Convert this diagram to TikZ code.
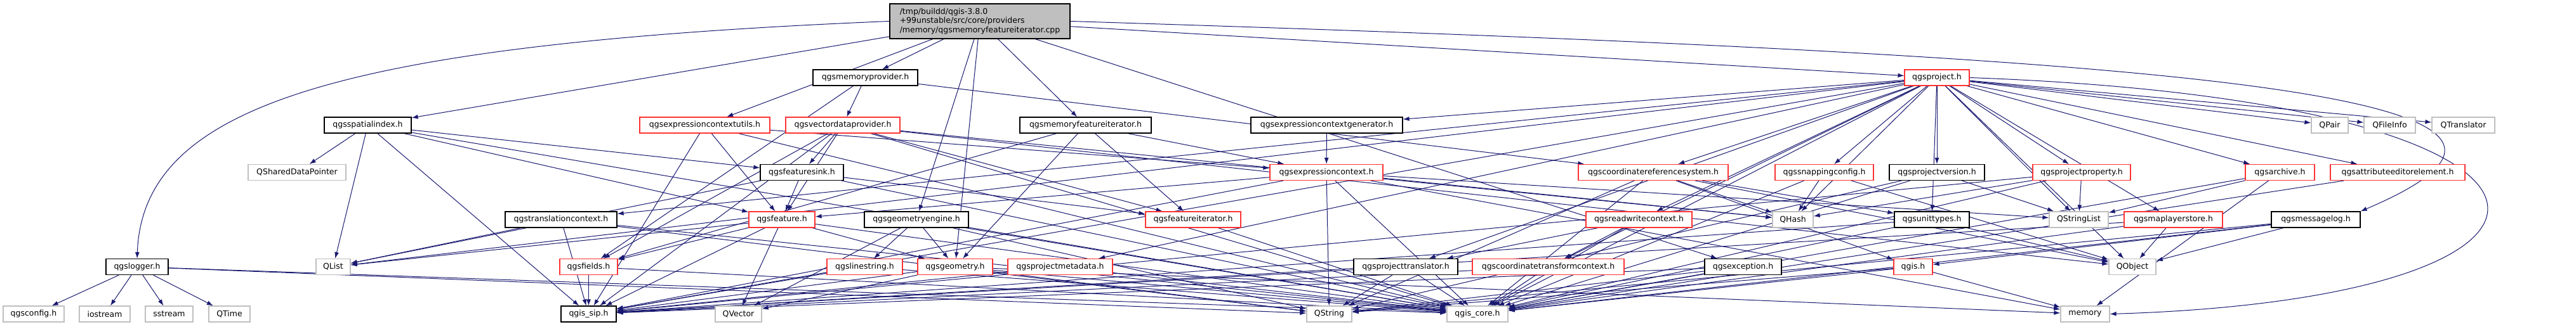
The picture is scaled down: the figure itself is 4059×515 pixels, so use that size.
\documentclass[tikz,border=0pt]{standalone}
\usepackage{fontspec}
\setmainfont{DejaVu Sans}
\usepackage{tikz}
\usetikzlibrary{arrows.meta}
\usepackage{xcolor}

\definecolor{edgeblue}{HTML}{191970}
\definecolor{cutred}{HTML}{FF3333}
\definecolor{sysgray}{HTML}{BFBFBF}

\pgfdeclarelayer{bg}
\pgfsetlayers{bg,main}

\tikzset{
    hbox/.style = {draw=black, line width=1.2pt, fill=white, minimum height=25pt, inner sep=0pt,
                   font=\fontsize{12.5}{14.2}\selectfont},
    hcut/.style = {hbox, draw=cutred},
    hsys/.style = {hbox, draw=sysgray},
    hroot/.style = {hbox, fill=sysgray, minimum height=55pt, align=left},
    inc/.style = {draw=edgeblue, line width=1pt, -{Latex[length=10pt, width=7pt]}}
}

\begin{document}
\begin{tikzpicture}[x=1pt, y=-1pt]
        \useasboundingbox (0,0) rectangle (4059,515);

        \node[hroot, minimum width=284pt] (root) at (1544,33.5) {/tmp/buildd/qgis-3.8.0\\+99unstable/src/core/providers\\/memory/qgsmemoryfeatureiterator.cpp};

        \node[hbox, minimum width=165pt] (memprov) at (1363.5,122.5) {qgsmemoryprovider.h};
        \node[hcut, minimum width=102pt] (project) at (3052,122.5) {qgsproject.h};

        \node[hbox, minimum width=137pt] (spatialindex) at (579.5,197.5) {qgsspatialindex.h};
        \node[hcut, minimum width=205pt] (exprctxutils) at (1110.5,197.5) {qgsexpressioncontextutils.h};
        \node[hcut, minimum width=180pt] (vecdataprov) at (1328,197.5) {qgsvectordataprovider.h};
        \node[hbox, minimum width=207pt] (memfeatiter) at (1710.5,197.5) {qgsmemoryfeatureiterator.h};
        \node[hbox, minimum width=239pt] (exprctxgen) at (2090.5,197.5) {qgsexpressioncontextgenerator.h};
        \node[hsys, minimum width=58pt] (qpair) at (3671,197.5) {QPair};
        \node[hsys, minimum width=81pt] (qfileinfo) at (3765.5,197.5) {QFileInfo};
        \node[hsys, minimum width=99pt] (qtranslator) at (3881.5,197.5) {QTranslator};

        \node[hsys, minimum width=154pt] (shareddp) at (468,272) {QSharedDataPointer};
        \node[hbox, minimum width=131pt] (featuresink) at (1263.5,272) {qgsfeaturesink.h};
        \node[hcut, minimum width=178pt] (exprctx) at (2090,272) {qgsexpressioncontext.h};
        \node[hcut, minimum width=236pt] (crs) at (2605,272) {qgscoordinatereferencesystem.h};
        \node[hcut, minimum width=155pt] (snapping) at (2874.5,272) {qgssnappingconfig.h};
        \node[hbox, minimum width=150pt] (projversion) at (3052,272) {qgsprojectversion.h};
        \node[hcut, minimum width=154pt] (projprop) at (3280,272) {qgsprojectproperty.h};
        \node[hcut, minimum width=109pt] (archive) at (3592.5,272) {qgsarchive.h};
        \node[hcut, minimum width=212pt] (attreditor) at (3778,272) {qgsattributeeditorelement.h};

        \node[hbox, minimum width=176pt] (transctx) at (884,346.5) {qgstranslationcontext.h};
        \node[hcut, minimum width=104pt] (feature) at (1232,346.5) {qgsfeature.h};
        \node[hbox, minimum width=164pt] (geomengine) at (1444,346.5) {qgsgeometryengine.h};
        \node[hcut, minimum width=150pt] (featiter) at (1880,346.5) {qgsfeatureiterator.h};
        \node[hcut, minimum width=167pt] (rwctx) at (2582.5,346.5) {qgsreadwritecontext.h};
        \node[hsys, minimum width=64pt] (qhash) at (2825,346.5) {QHash};
        \node[hbox, minimum width=118pt] (unittypes) at (3044,346.5) {qgsunittypes.h};
        \node[hsys, minimum width=93pt] (qstringlist) at (3275.5,346.5) {QStringList};
        \node[hcut, minimum width=155pt] (maplayerstore) at (3424.5,346.5) {qgsmaplayerstore.h};
        \node[hbox, minimum width=140pt] (msglog) at (3649,346.5) {qgsmessagelog.h};

        \node[hbox, minimum width=98pt] (logger) at (216,421) {qgslogger.h};
        \node[hsys, minimum width=54pt] (qlist) at (525,421) {QList};
        \node[hcut, minimum width=91pt] (fields) at (927.5,421) {qgsfields.h};
        \node[hcut, minimum width=119pt] (linestring) at (1362.5,421) {qgslinestring.h};
        \node[hcut, minimum width=118pt] (geometry) at (1505,421) {qgsgeometry.h};
        \node[hcut, minimum width=165pt] (projmeta) at (1670.5,421) {qgsprojectmetadata.h};
        \node[hbox, minimum width=164pt] (projtranslator) at (2215,421) {qgsprojecttranslator.h};
        \node[hcut, minimum width=239pt] (ctc) at (2439.5,421) {qgscoordinatetransformcontext.h};
        \node[hbox, minimum width=121pt] (exception) at (2746.5,421) {qgsexception.h};
        \node[hcut, minimum width=61pt] (qgis) at (3014.5,421) {qgis.h};
        \node[hsys, minimum width=74pt] (qobject) at (3360,421) {QObject};

        \node[hsys, minimum width=96pt] (qgsconfig) at (53,495.5) {qgsconfig.h};
        \node[hsys, minimum width=80pt] (iostream) at (165,495.5) {iostream};
        \node[hsys, minimum width=75pt] (sstream) at (266.5,495.5) {sstream};
        \node[hsys, minimum width=65pt] (qtime) at (361.5,495.5) {QTime};
        \node[hbox, minimum width=87pt] (qgissip) at (927.5,495.5) {qgis\_sip.h};
        \node[hsys, minimum width=73pt] (qvector) at (1163.5,495.5) {QVector};
        \node[hsys, minimum width=71pt] (qstring) at (2094.5,495.5) {QString};
        \node[hsys, minimum width=96pt] (qgiscore) at (2328,495.5) {qgis\_core.h};
        \node[hsys, minimum width=77pt] (memory) at (3285.5,495.5) {memory};

        \begin{pgfonlayer}{bg}
            \draw[inc] (root.west) .. controls (520,70) and (225,170) .. (logger.north);
            \draw[inc] (root) -- (spatialindex);
            \draw[inc] (root) -- (exprctxutils);
            \draw[inc] (root) -- (memprov);
            \draw[inc] (root) -- (geomengine);
            \draw[inc] (root) -- (geometry);
            \draw[inc] (root) -- (memfeatiter);
            \draw[inc] (root) -- (project);
            \draw[inc] (root) -- (exception);
            \draw[inc] (root.east) .. controls (3500,90) and (4150,150) .. (msglog.north east);

            \draw[inc] (memprov) -- (vecdataprov);
            \draw[inc] (memprov) -- (crs);
            \draw[inc] (memprov) -- (fields);

            \draw[inc] (logger) -- (qgsconfig);
            \draw[inc] (logger) -- (iostream);
            \draw[inc] (logger) -- (sstream);
            \draw[inc] (logger) -- (qtime);
            \draw[inc] (logger) -- (qstring);
            \draw[inc] (logger) -- (qgiscore);

            \draw[inc] (spatialindex) -- (qgissip);
            \draw[inc] (spatialindex) -- (shareddp);
            \draw[inc] (spatialindex) -- (qlist);
            \draw[inc] (spatialindex) -- (feature);
            \draw[inc] (spatialindex) -- (featuresink);
            \draw[inc] (spatialindex) -- (qgiscore);

            \draw[inc] (exprctxutils) -- (qgiscore);
            \draw[inc] (exprctxutils) -- (qgissip);
            \draw[inc] (exprctxutils) -- (feature);
            \draw[inc] (exprctxutils) -- (exprctx);

            \draw[inc] (vecdataprov) -- (qgiscore);
            \draw[inc] (vecdataprov) -- (qgissip);
            \draw[inc] (vecdataprov) -- (qobject);
            \draw[inc] (vecdataprov) -- (qhash);
            \draw[inc] (vecdataprov) -- (feature);
            \draw[inc] (vecdataprov) -- (fields);
            \draw[inc] (vecdataprov) -- (featuresink);
            \draw[inc] (vecdataprov) -- (featiter);

            \draw[inc] (memfeatiter) -- (featiter);
            \draw[inc] (memfeatiter) -- (exprctx);
            \draw[inc] (memfeatiter) -- (fields);
            \draw[inc] (memfeatiter) -- (geometry);

            \draw[inc] (exprctxgen) -- (exprctx);

            \draw[inc] (project) -- (qgiscore);
            \draw[inc] (project) -- (qgissip);
            \draw[inc] (project.east) .. controls (4150,160) and (4150,470) .. (memory.east);
            \draw[inc] (project) -- (qhash);
            \draw[inc] (project) -- (qlist);
            \draw[inc] (project) -- (qobject);
            \draw[inc] (project) -- (qpair);
            \draw[inc] (project) -- (qfileinfo);
            \draw[inc] (project) -- (qstringlist);
            \draw[inc] (project) -- (qtranslator);
            \draw[inc] (project) -- (unittypes);
            \draw[inc] (project) -- (snapping);
            \draw[inc] (project) -- (projversion);
            \draw[inc] (project) -- (exprctxgen);
            \draw[inc] (project) -- (crs);
            \draw[inc] (project) -- (ctc);
            \draw[inc] (project) -- (projprop);
            \draw[inc] (project) -- (maplayerstore);
            \draw[inc] (project) -- (archive);
            \draw[inc] (project) -- (rwctx);
            \draw[inc] (project) -- (projmeta);
            \draw[inc] (project) -- (transctx);
            \draw[inc] (project) -- (projtranslator);
            \draw[inc] (project) -- (attreditor);

            \draw[inc] (snapping) -- (qhash);
            \draw[inc] (snapping) -- (qobject);
            \draw[inc] (snapping) -- (qgiscore);

            \draw[inc] (projversion) -- (qstring);
            \draw[inc] (projversion) -- (qstringlist);
            \draw[inc] (projversion) -- (qgiscore);

            \draw[inc] (projprop) -- (qhash);
            \draw[inc] (projprop) -- (qstringlist);
            \draw[inc] (projprop) -- (qgiscore);
            \draw[inc] (projprop) -- (qgissip);

            \draw[inc] (archive) -- (qstringlist);
            \draw[inc] (archive) -- (qgiscore);
            \draw[inc] (archive) -- (memory);

            \draw[inc] (attreditor) -- (qgiscore);

            \draw[inc] (maplayerstore) -- (qobject);
            \draw[inc] (maplayerstore) -- (qgiscore);
            \draw[inc] (maplayerstore) -- (qgissip);

            \draw[inc] (msglog) -- (qgis);
            \draw[inc] (msglog) -- (qobject);
            \draw[inc] (msglog) -- (qgiscore);
            \draw[inc] (msglog) -- (qstring);

            \draw[inc] (crs) -- (qstring);
            \draw[inc] (crs) -- (qhash);
            \draw[inc] (crs) -- (qobject);
            \draw[inc] (crs) -- (qgis);
            \draw[inc] (crs) -- (unittypes);
            \draw[inc] (crs) -- (qgiscore);

            \draw[inc] (exprctx) -- (qstring);
            \draw[inc] (exprctx) -- (qhash);
            \draw[inc] (exprctx) -- (qstringlist);
            \draw[inc] (exprctx) -- (memory);
            \draw[inc] (exprctx) -- (feature);
            \draw[inc] (exprctx) -- (qgiscore);
            \draw[inc] (exprctx) -- (qgissip);

            \draw[inc] (featuresink) -- (feature);
            \draw[inc] (featuresink) -- (featiter);
            \draw[inc] (featuresink) -- (qgiscore);
            \draw[inc] (featuresink) -- (qlist);

            \draw[inc] (transctx) -- (qlist);
            \draw[inc] (transctx) -- (qgissip);
            \draw[inc] (transctx) -- (qgiscore);
            \draw[inc] (transctx) -- (qstring);

            \draw[inc] (feature) -- (qlist);
            \draw[inc] (feature) -- (fields);
            \draw[inc] (feature) -- (qgissip);
            \draw[inc] (feature) -- (qvector);
            \draw[inc] (feature) -- (qgiscore);
            \draw[inc] (feature) -- (geometry);

            \draw[inc] (fields) -- (qgissip);
            \draw[inc] (fields) -- (qgiscore);

            \draw[inc] (geomengine) -- (linestring);
            \draw[inc] (geomengine) -- (geometry);
            \draw[inc] (geomengine) -- (qvector);
            \draw[inc] (geomengine) -- (qstring);
            \draw[inc] (geomengine) -- (qgiscore);

            \draw[inc] (geometry) -- (qgissip);
            \draw[inc] (geometry) -- (qvector);
            \draw[inc] (geometry) -- (qstring);
            \draw[inc] (geometry) -- (qgiscore);
            \draw[inc] (geometry) -- (memory);

            \draw[inc] (linestring) -- (qgissip);
            \draw[inc] (linestring) -- (qgiscore);

            \draw[inc] (projmeta) -- (qgissip);
            \draw[inc] (projmeta) -- (qgiscore);

            \draw[inc] (featiter) -- (qgiscore);

            \draw[inc] (rwctx) -- (projtranslator);
            \draw[inc] (rwctx) -- (ctc);
            \draw[inc] (rwctx) -- (qgiscore);

            \draw[inc] (projtranslator) -- (qgissip);
            \draw[inc] (projtranslator) -- (qstring);
            \draw[inc] (projtranslator) -- (qgiscore);

            \draw[inc] (ctc) -- (qgiscore);
            \draw[inc] (ctc) -- (qgissip);

            \draw[inc] (exception) -- (qstring);
            \draw[inc] (exception) -- (qgiscore);
            \draw[inc] (exception) -- (qgissip);

            \draw[inc] (qgis) -- (qstring);
            \draw[inc] (qgis) -- (qgiscore);
            \draw[inc] (qgis) -- (memory);

            \draw[inc] (unittypes) -- (qgiscore);
            \draw[inc] (unittypes) -- (qgissip);
            \draw[inc] (unittypes) -- (qobject);
        \end{pgfonlayer}
    \end{tikzpicture}
\end{document}
